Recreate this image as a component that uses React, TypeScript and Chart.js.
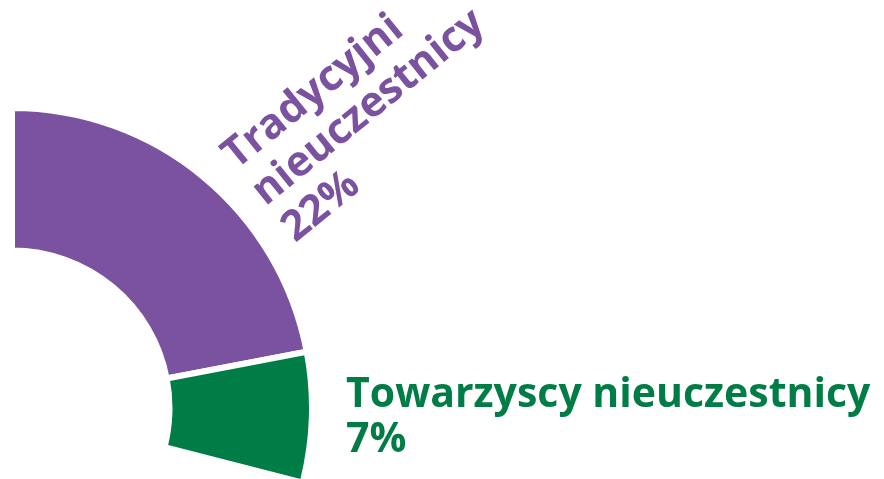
import React, { useEffect, useRef } from 'react';
import { Chart, registerables } from 'chart.js';

Chart.register(...registerables);

const categories = ['Tradycyjni nieuczestnicy', 'Towarzyscy nieuczestnicy'];
const values = [22, 7];
const percentLabels = ['22%', '7%'];
const colors = ['#7B52A0', '#007D46'];
const purpleLines = ['Tradycyjni', 'nieuczestnicy', percentLabels[0]];
const greenLines = [categories[1], percentLabels[1]];

const W = 884;
const H = 479;
const RADIUS = 300;

export default function App() {
  const ref = useRef<HTMLCanvasElement>(null);
  useEffect(() => {
    document.body.style.margin = '0';
    const canvas = ref.current;
    if (!canvas) return;
    const circumference = (values.reduce((a, b) => a + b, 0) / 100) * 360;

    const labelPlugin = {
      id: 'sliceLabels',
      afterDraw(chart: any) {
        const ctx = chart.ctx as CanvasRenderingContext2D;
        ctx.save();
        ctx.font = 'bold 42px "Open Sans"';
        ctx.textAlign = 'left';
        ctx.textBaseline = 'alphabetic';
        ctx.fillStyle = colors[0];
        ctx.translate(236, 170);
        ctx.rotate((-39 * Math.PI) / 180);
        purpleLines.forEach((t, i) => ctx.fillText(t, 0, i * 47));
        ctx.restore();

        ctx.save();
        ctx.font = 'bold 41px "Open Sans"';
        ctx.textAlign = 'left';
        ctx.textBaseline = 'alphabetic';
        ctx.fillStyle = colors[1];
        greenLines.forEach((t, i) => ctx.fillText(t, 346, 407 + i * 45));
        ctx.restore();
      },
    };

    const chart = new Chart(canvas, {
      type: 'doughnut',
      data: {
        labels: categories,
        datasets: [
          {
            data: values,
            backgroundColor: colors,
            borderColor: '#ffffff',
            borderWidth: 6,
            clip: false as any,
          },
        ],
      },
      options: {
        responsive: false,
        animation: false,
        rotation: 0,
        circumference,
        radius: RADIUS,
        cutout: '52.5%',
        layout: { padding: { left: 0, right: 560, top: 111.6, bottom: 0 } },
        plugins: {
          legend: { display: false },
          tooltip: { enabled: false },
        },
      },
      plugins: [labelPlugin],
    });
    return () => chart.destroy();
  }, []);

  return (
    <div style={{ width: W, height: H, position: 'relative', overflow: 'hidden' }}>
      <canvas ref={ref} width={W} height={H} style={{ width: W, height: H, display: 'block' }} />
    </div>
  );
}
